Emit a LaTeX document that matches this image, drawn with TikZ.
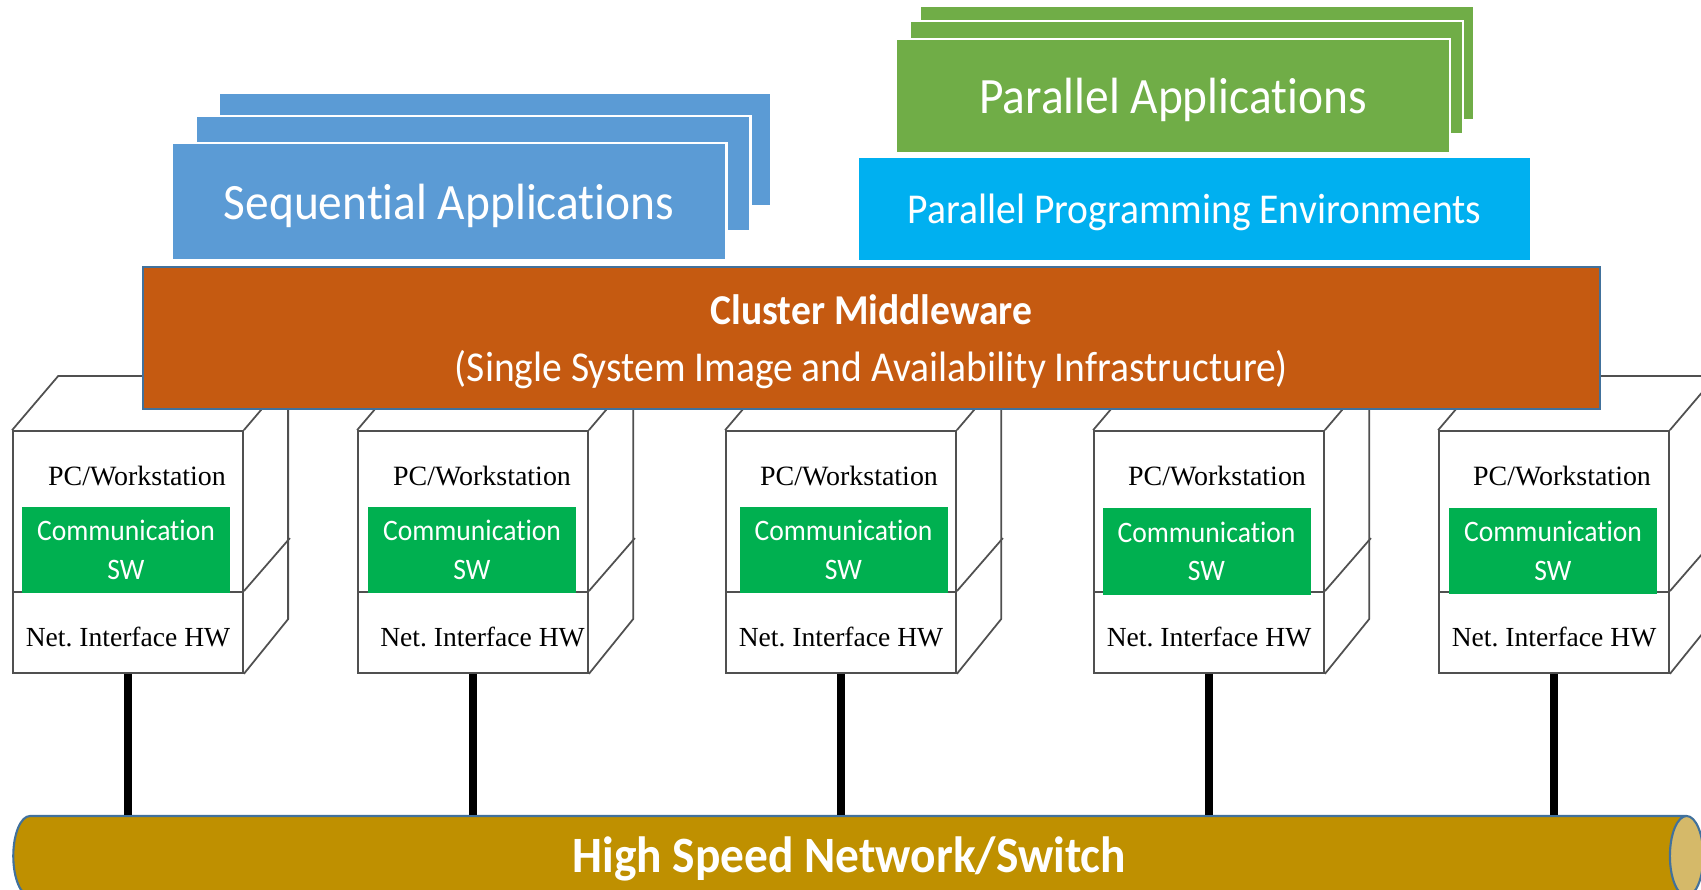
\documentclass[tikz,border=0pt]{standalone}
\usepackage{fontspec}
\setmainfont{Liberation Serif}
\newfontfamily\appfont[FakeStretch=0.93,Ligatures=CommonOff]{Carlito}
\usetikzlibrary{shapes.geometric}

\definecolor{seqblue}{HTML}{5B9BD5}
\definecolor{pargreen}{HTML}{70AD47}
\definecolor{envcyan}{HTML}{00B0F0}
\definecolor{swgreen}{HTML}{00B050}
\definecolor{midorange}{HTML}{C55A11}
\definecolor{busgold}{HTML}{BF9000}
\definecolor{busend}{HTML}{D5B969}
\definecolor{edgeblue}{HTML}{41719C}
\definecolor{cubegray}{HTML}{505050}

\tikzset{
    appbox/.style={draw=white, line width=0.6pt, inner sep=0, text=white, text depth=0pt, font=\appfont\fontsize{14.5}{16}\selectfont},
    cubeline/.style={draw=cubegray, line width=0.5pt},
    pcbox/.style={cubeline, inner sep=0, minimum width=2.30cm, minimum height=1.61cm},
    netbox/.style={cubeline, inner sep=0, minimum width=2.30cm, minimum height=0.81cm, text height=8pt, text depth=0pt, font=\frenchspacing\fontsize{7.85}{10}\selectfont},
    pclabel/.style={inner sep=0, font=\fontsize{7.95}{10}\selectfont},
    swbox/.style={fill=swgreen, inner sep=0, minimum width=2.08cm, minimum height=0.86cm, text=white, align=center, font=\appfont\fontsize{8.45}{11}\selectfont},
    link/.style={line width=2.1pt, black}
}

\begin{document}
\begin{tikzpicture}
    \clip (0,0) rectangle (17.01,8.89);

    % Sequential stack
    \node[appbox, fill=seqblue, minimum width=5.53cm, minimum height=1.14cm] (seqback) at (4.95,7.395) {};
    \node[appbox, fill=seqblue, minimum width=5.55cm, minimum height=1.15cm] (seqmid) at (4.73,7.155) {};
    \node[appbox, fill=seqblue, minimum width=5.55cm, minimum height=1.17cm] (seqapp) at (4.49,6.875) {Sequential Applications};

    % Parallel stack
    \node[appbox, fill=pargreen, minimum width=5.54cm, minimum height=1.14cm] (parback) at (11.97,8.26) {};
    \node[appbox, fill=pargreen, minimum width=5.53cm, minimum height=1.13cm] (parmid) at (11.865,8.115) {};
    \node[appbox, fill=pargreen, minimum width=5.54cm, minimum height=1.14cm] (parapp) at (11.73,7.93) {Parallel Applications};
    \node[appbox, fill=envcyan, minimum width=6.73cm, minimum height=1.05cm, font=\appfont\fontsize{12.1}{14}\selectfont] (parenv) at (11.945,6.80) {Parallel Programming Environments};

    % PC 1
    \node[pcbox] (pc1) at (1.28,3.775) {};
    \node[netbox] (net1) at (1.28,2.565) {Net. Interface HW};
    \draw[cubeline] (pc1.north west) -- ++(0.46,0.54) -- ++(2.30,0) -- ++(0,-2.43) -- (net1.south east);
    \draw[cubeline] (pc1.north east) -- ++(0.46,0.54);
    \draw[cubeline] (net1.north east) -- ++(0.46,0.53);
    \node[pclabel] (pctext1) at (1.37,4.13) {PC/Workstation};
    \node[swbox] (sw1) at (1.26,3.39) {Communication\\SW};

    % PC 2
    \node[pcbox] (pc2) at (4.73,3.775) {};
    \node[netbox] (net2) at (4.73,2.565) {\hspace*{0.19cm}Net. Interface HW};
    \draw[cubeline] (pc2.north west) -- ++(0.46,0.54) -- ++(2.30,0) -- ++(0,-2.43) -- (net2.south east);
    \draw[cubeline] (pc2.north east) -- ++(0.46,0.54);
    \draw[cubeline] (net2.north east) -- ++(0.46,0.53);
    \node[pclabel] (pctext2) at (4.82,4.13) {PC/Workstation};
    \node[swbox] (sw2) at (4.72,3.39) {Communication\\SW};

    % PC 3
    \node[pcbox] (pc3) at (8.41,3.775) {};
    \node[netbox] (net3) at (8.41,2.565) {Net. Interface HW};
    \draw[cubeline] (pc3.north west) -- ++(0.46,0.54) -- ++(2.30,0) -- ++(0,-2.43) -- (net3.south east);
    \draw[cubeline] (pc3.north east) -- ++(0.46,0.54);
    \draw[cubeline] (net3.north east) -- ++(0.46,0.53);
    \node[pclabel] (pctext3) at (8.49,4.13) {PC/Workstation};
    \node[swbox] (sw3) at (8.435,3.39) {Communication\\SW};

    % PC 4
    \node[pcbox] (pc4) at (12.09,3.775) {};
    \node[netbox] (net4) at (12.09,2.565) {Net. Interface HW};
    \draw[cubeline] (pc4.north west) -- ++(0.46,0.54) -- ++(2.30,0) -- ++(0,-2.43) -- (net4.south east);
    \draw[cubeline] (pc4.north east) -- ++(0.46,0.54);
    \draw[cubeline] (net4.north east) -- ++(0.46,0.53);
    \node[pclabel] (pctext4) at (12.17,4.13) {PC/Workstation};
    \node[swbox] (sw4) at (12.065,3.375) {Communication\\SW};

    % PC 5
    \node[pcbox] (pc5) at (15.54,3.775) {};
    \node[netbox] (net5) at (15.54,2.565) {Net. Interface HW};
    \draw[cubeline] (pc5.north west) -- ++(0.46,0.54) -- ++(2.30,0) -- ++(0,-2.43) -- (net5.south east);
    \draw[cubeline] (pc5.north east) -- ++(0.46,0.54);
    \draw[cubeline] (net5.north east) -- ++(0.46,0.53);
    \node[pclabel] (pctext5) at (15.62,4.13) {PC/Workstation};
    \node[swbox] (sw5) at (15.53,3.38) {Communication\\SW};

    % Middleware band
    \node[draw=edgeblue, line width=0.6pt, fill=midorange, text=white, text depth=0pt, inner sep=0, minimum width=14.57cm, minimum height=1.42cm, align=center, font=\appfont\fontsize{12.1}{16}\selectfont] (middleware) at (8.715,5.51) {\textbf{Cluster Middleware}\\(Single System Image and Availability Infrastructure)};

    % Network cylinder
    \node[cylinder, draw=edgeblue, line width=0.6pt, cylinder uses custom fill, cylinder body fill=busgold, cylinder end fill=busend, shape aspect=0.85, inner sep=0, minimum width=0.80cm, minimum height=16.90cm, text=white, text depth=1pt, font=\appfont\bfseries\fontsize{14.5}{16}\selectfont] (bus) at (8.494,0.33) {High Speed Network/Switch};

    % Links to the network
    \draw[link] (net1.south) -- (net1.south |- bus.north);
    \draw[link] (net2.south) -- (net2.south |- bus.north);
    \draw[link] (net3.south) -- (net3.south |- bus.north);
    \draw[link] (net4.south) -- (net4.south |- bus.north);
    \draw[link] (net5.south) -- (net5.south |- bus.north);
\end{tikzpicture}
\end{document}
